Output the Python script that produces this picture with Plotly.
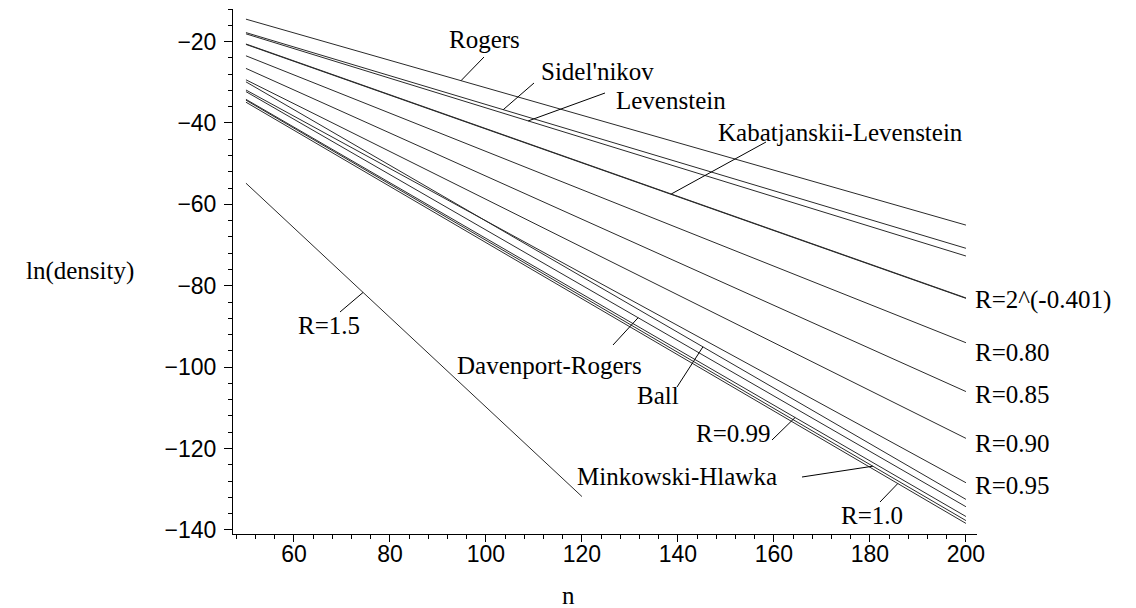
import numpy as np
import plotly.graph_objects as go

# ---- data ----
n_all = [50, 200]
n_r15 = [50, 120]

rogers = [-14.5, -65.1]
sidelnikov = [-17.8, -70.8]
levenstein = [-18.1, -72.7]
kabat_lev = [-20.6, -83.0]
r_0401 = [-20.7, -83.1]
r_080 = [-23.5, -94.0]
r_085 = [-26.6, -106.0]
r_090 = [-29.4, -117.5]
r_095 = [-31.9, -128.4]
ball = [-29.9, -132.5]
davenport_rogers = [-32.3, -134.3]
r_099 = [-34.2, -136.7]
minkowski_hlawka = [-34.4, -137.7]
r_100 = [-34.9, -138.4]
r_150 = [-54.8, -131.8]

x_ticks = [60, 80, 100, 120, 140, 160, 180, 200]
y_ticks = [-20, -40, -60, -80, -100, -120, -140]

# ---- layout geometry (pixels) ----
W, H = 1136, 608
PL, PR, PT, PB = 233, 977, 9, 534
XR = [47.3, 202.3]
YR = [-141.0, -12.0]


def px2data(px, py):
    n = XR[0] + (px - PL) / (PR - PL) * (XR[1] - XR[0])
    v = YR[1] - (py - PT) / (PB - PT) * (YR[1] - YR[0])
    return n, v


def px2paper(px, py):
    return (px - PL) / (PR - PL), (PB - py) / (PB - PT)


fig = go.Figure()
line_style = dict(color="#2a2a2a", width=1)
for ys in [rogers, sidelnikov, levenstein, kabat_lev, r_0401, r_080, r_085,
           r_090, r_095, ball, davenport_rogers, r_099, minkowski_hlawka, r_100]:
    fig.add_trace(go.Scatter(x=n_all, y=ys, mode="lines", line=line_style,
                             showlegend=False, hoverinfo="skip"))
fig.add_trace(go.Scatter(x=n_r15, y=r_150, mode="lines", line=line_style,
                         showlegend=False, hoverinfo="skip"))

serif = "Liberation Serif"
sans = "Liberation Sans"

# labels: text, pixel x, pixel y, anchor
labels = [
    ("Rogers", 484, 40, "center"),
    ("Sidel'nikov", 597, 71, "center"),
    ("Levenstein", 671, 100, "center"),
    ("Kabatjanskii-Levenstein", 840, 132, "center"),
    ("R=2^(-0.401)", 973, 300, "left"),
    ("R=0.80", 973, 353, "left"),
    ("R=0.85", 973, 394, "left"),
    ("R=0.90", 973, 444, "left"),
    ("R=0.95", 973, 485, "left"),
    ("R=1.0", 872, 515, "center"),
    ("Minkowski-Hlawka", 677, 476, "center"),
    ("R=0.99", 773, 433, "right"),
    ("Ball", 658, 395, "center"),
    ("Davenport-Rogers", 644, 365, "right"),
    ("R=1.5", 329, 325, "center"),
]
annotations = []
for text, px, py, anc in labels:
    xp, yp = px2paper(px, py)
    annotations.append(dict(text=text, x=xp, y=yp, xref="paper", yref="paper",
                            xanchor=anc, yanchor="middle", showarrow=False,
                            font=dict(family=serif, size=25, color="black")))

for text, px, py in [("ln(density)", 80, 271), ("n", 568, 595)]:
    xp, yp = px2paper(px, py)
    annotations.append(dict(text=text, x=xp, y=yp, xref="paper", yref="paper",
                            xanchor="center", yanchor="middle", showarrow=False,
                            font=dict(family=serif, size=25, color="black")))

# pointer lines: series, n at tip, tail pixel position
pointers = [
    (n_all, rogers, 94.8, 484, 57),
    (n_all, sidelnikov, 103.6, 534, 83),
    (n_all, levenstein, 108.8, 605, 93),
    (n_all, kabat_lev, 138.6, 766, 142),
    (n_all, r_100, 185.8, 880, 502),
    (n_all, minkowski_hlawka, 180.6, 802, 477),
    (n_all, r_099, 164.4, 772, 440),
    (n_all, ball, 145.2, 677, 387),
    (n_all, davenport_rogers, 131.7, 613, 345),
    (n_r15, r_150, 74.4, 340, 312),
]
shapes = []
for xs, ys, ntip, tx, ty in pointers:
    vtip = float(np.interp(ntip, xs, ys))
    nt, vt = px2data(tx, ty)
    shapes.append(dict(type="line", xref="x", yref="y", x0=ntip, y0=vtip,
                       x1=nt, y1=vt, line=dict(color="black", width=1),
                       layer="above"))

fig.update_layout(
    width=W, height=H, autosize=False,
    margin=dict(l=PL, r=W - PR, t=PT, b=H - PB, pad=0),
    paper_bgcolor="white", plot_bgcolor="white",
    annotations=annotations, shapes=shapes,
    xaxis=dict(range=XR, tickvals=x_ticks, showgrid=False, zeroline=False,
               showline=True, linecolor="black", linewidth=1,
               ticks="outside", ticklen=7, tickcolor="black", tickwidth=1,
               ticklabelstandoff=-8,
               tickfont=dict(family=sans, size=23, color="black"),
               minor=dict(dtick=4, tick0=0, ticks="outside", ticklen=4,
                          tickcolor="black", showgrid=False)),
    yaxis=dict(range=YR, tickvals=y_ticks, showgrid=False, zeroline=False,
               showline=True, linecolor="black", linewidth=1,
               ticks="outside", ticklen=8, tickcolor="black", tickwidth=1,
               ticklabelstandoff=3,
               tickfont=dict(family=sans, size=23, color="black"),
               minor=dict(dtick=4, tick0=0, ticks="outside", ticklen=4,
                          tickcolor="black", showgrid=False)),
)

fig.write_html(
    "out.html",
    config={"displayModeBar": False, "staticPlot": True},
    post_script="document.body.style.margin='0px';"
                "document.body.style.overflow='hidden';",
)
